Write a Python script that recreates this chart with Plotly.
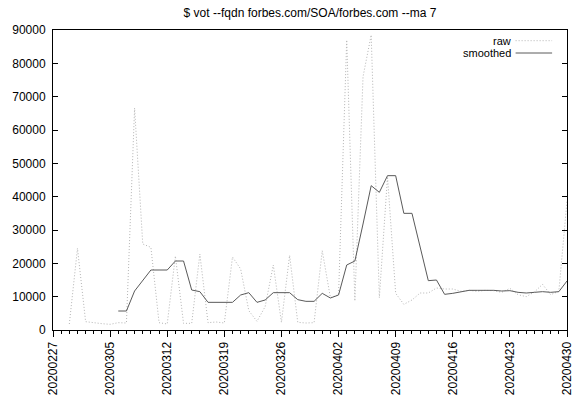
import pandas as pd
import plotly.graph_objects as go

title_text = "$ vot --fqdn forbes.com/SOA/forbes.com --ma 7"

raw_dates = pd.date_range("2020-02-29", "2020-04-30", freq="D")
raw_values = [
    1800, 24500, 2500, 2100, 1900, 1700, 2200, 2100, 66600, 25800,
    24800, 2200, 1800, 22200, 2000, 2000, 22800, 2200, 2400, 2100,
    21900, 18300, 5800, 2600, 7000, 19500, 2300, 22400, 2300, 2100,
    2200, 23800, 9700, 10600, 87000, 8700, 76000, 88500, 9700, 46000,
    11000, 7700, 9000, 11100, 11100, 12600, 12300, 12300, 11600, 11900,
    11600, 11900, 11800, 11300, 12500, 10600, 10000, 11400, 13700, 10600,
    11600, 38700,
]

smooth_dates = pd.date_range("2020-03-06", "2020-04-30", freq="D")
smooth_values = [
    5700, 5700, 11700, 14900, 18000, 18000, 18000, 20700, 20700, 12000,
    11500, 8300, 8300, 8300, 8300, 10500, 11200, 8300, 9000, 11200,
    11200, 11200, 9100, 8600, 8600, 11000, 9600, 10500, 19500, 20700,
    31800, 43300, 41300, 46300, 46300, 35000, 35000, 25200, 14800, 15000,
    10700, 11000, 11500, 11900, 11900, 12000, 11900, 11700, 11800, 11300,
    11100, 11300, 11500, 11300, 11500, 14700,
]

x_range = ["2020-02-27", "2020-04-30"]
y_ticks = list(range(0, 90001, 10000))
y_ticktext = [str(v) for v in y_ticks]

raw_color = "#b4b4b4"
smooth_color = "#5a5a5a"
raw_dash = "1px,2px"
font_family = "Liberation Sans, Arial, sans-serif"

fig = go.Figure()
fig.add_trace(go.Scatter(x=raw_dates, y=raw_values, mode="lines", name="raw",
                         line=dict(color=raw_color, width=1, dash=raw_dash)))
fig.add_trace(go.Scatter(x=smooth_dates, y=smooth_values, mode="lines", name="smoothed",
                         line=dict(color=smooth_color, width=1)))

fig.update_layout(
    width=581, height=402,
    margin=dict(l=53, r=7, t=30, b=63),
    paper_bgcolor="white", plot_bgcolor="white",
    showlegend=False,
    font=dict(family=font_family, size=12, color="black"),
    title=dict(text=title_text, x=0.5, xref="paper", y=1 - 13 / 402, yref="container",
               xanchor="center", yanchor="middle", font=dict(size=12, color="black")),
)

fig.update_xaxes(
    type="date", range=x_range, showgrid=False, zeroline=False,
    showline=True, linecolor="black", linewidth=1, mirror=True,
    tick0="2020-02-27", dtick=7 * 86400000, tickformat="%Y%m%d",
    tickangle=-90, ticks="outside", ticklen=6, tickcolor="black",
    minor=dict(dtick=86400000, tick0="2020-02-27", ticks="outside", ticklen=3,
               tickcolor="black", showgrid=False),
    tickfont=dict(size=12, color="black"),
)
fig.update_yaxes(
    range=[0, 90000], tickvals=y_ticks, ticktext=y_ticktext, showgrid=False, zeroline=False,
    showline=True, linecolor="black", linewidth=1, mirror="ticks",
    ticks="inside", ticklen=5, tickcolor="black",
    tickfont=dict(size=12, color="black"), ticklabelstandoff=4,
)

# legend (gnuplot style: text right-aligned, sample on the right)
plot_h = 402 - 30 - 63
legend_items = [("raw", raw_color, raw_dash, 41.0), ("smoothed", smooth_color, "solid", 53.7)]
for label, color, dash, ypx in legend_items:
    yp = 1 - (ypx - 30) / plot_h
    fig.add_annotation(text=label, xref="paper", yref="paper", x=0.893, y=yp,
                       xanchor="right", yanchor="middle", showarrow=False, borderpad=0,
                       font=dict(size=11, color="black"))
    fig.add_shape(type="line", xref="paper", yref="paper", x0=0.900, x1=0.971,
                  y0=yp, y1=yp, line=dict(color=color, width=1, dash=dash))

fig.write_html("out.html")
